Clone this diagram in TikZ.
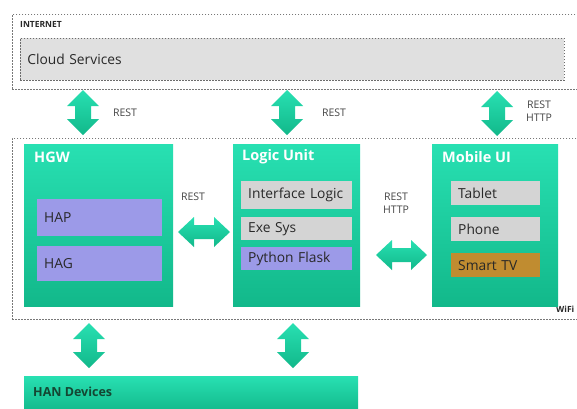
\documentclass[tikz,border=0pt]{standalone}
\usepackage{fontspec}
\setmainfont{Open Sans}
\definecolor{gT}{RGB}{40,224,178}
\definecolor{gB}{RGB}{18,184,138}
\definecolor{purp}{RGB}{156,154,232}
\definecolor{lgray}{RGB}{212,212,212}
\definecolor{cgray}{RGB}{224,224,224}
\definecolor{tvbrown}{RGB}{192,140,48}
\definecolor{dashc}{RGB}{120,120,120}
\definecolor{txt}{RGB}{40,40,40}
\definecolor{lbltxt}{RGB}{70,70,70}
\definecolor{hantxt}{RGB}{20,70,50}
\newcommand\vfat[4]{%
  \draw[fatarrow] ({#2},{#3}) -- ({#2+16},{#3+16}) -- ({#2+8},{#3+16}) -- ({#2+8},{#4-16}) -- ({#2+16},{#4-16}) -- ({#2},{#4}) -- ({#2-16},{#4-16}) -- ({#2-8},{#4-16}) -- ({#2-8},{#3+16}) -- ({#2-16},{#3+16}) -- cycle;
  \coordinate (#1) at ({#2},{(#3+#4)/2});}
\newcommand\hfat[4]{%
  \draw[fatarrow] ({#2},{#4}) -- ({#2+16},{#4-15}) -- ({#2+16},{#4-7}) -- ({#3-16},{#4-7}) -- ({#3-16},{#4-15}) -- ({#3},{#4}) -- ({#3-16},{#4+15}) -- ({#3-16},{#4+7}) -- ({#2+16},{#4+7}) -- ({#2+16},{#4+15}) -- cycle;
  \coordinate (#1) at ({(#2+#3)/2},{#4});}
\begin{document}
\begin{tikzpicture}[x=1pt,y=-1pt,
  zone/.style={draw=dashc, line width=0.7pt, dash pattern=on 1.6pt off 1.4pt, inner sep=0pt, anchor=north west},
  greenbox/.style={draw=none, top color=gT, bottom color=gB, inner sep=0pt, anchor=north west},
  subbox/.style={inner xsep=7pt, inner ysep=0pt, anchor=north west, align=left, text=txt, font=\fontsize{13.8}{16}\selectfont},
  title/.style={anchor=west, text=white, font=\bfseries\fontsize{14.5}{17}\selectfont, inner sep=0pt},
  smalllbl/.style={text=lbltxt, font=\fontsize{10.5}{12.5}\selectfont, align=center, inner sep=0pt},
  zonelbl/.style={anchor=west, inner sep=0pt, text=txt, font=\bfseries\fontsize{8.5}{10}\selectfont},
  fatarrow/.style={draw=none, top color=gT, bottom color=gB}
]
\useasboundingbox[fill=white] (0,0) rectangle (577,408);
% zones
\node[zone, minimum width=568pt, minimum height=75pt] (internet) at (12,14) {};
\node[zonelbl] (internetlbl) at (20,24) {INTERNET};
\node[zone, fill=cgray, draw=dashc!90!black, minimum width=544pt, minimum height=42pt, subbox, text width=530pt] (cloud) at (20,38) {Cloud Services};
\node[zone, minimum width=568pt, minimum height=181pt] (wifi) at (12,138) {};
\node[zonelbl] (wifilbl) at (556,309) {WiFi};
% HGW
\node[greenbox, minimum width=149pt, minimum height=162pt] (hgw) at (24,144) {};
\node[title] (hgwt) at (34,157) {HGW};
\node[subbox, fill=purp, minimum width=125pt, minimum height=37pt, text width=111pt] (hap) at (37,199) {HAP};
\node[subbox, fill=purp, minimum width=125pt, minimum height=35pt, text width=111pt] (hag) at (37,246) {HAG};
% Logic unit
\node[greenbox, minimum width=127pt, minimum height=162pt] (logic) at (233,144) {};
\node[title] (logict) at (242,157) {Logic Unit};
\node[subbox, fill=lgray, minimum width=111pt, minimum height=28pt, text width=97pt] (iface) at (241,181) {Interface Logic};
\node[subbox, fill=lgray, minimum width=111pt, minimum height=23pt, text width=97pt] (exe) at (241,217) {Exe Sys};
\node[subbox, fill=purp, minimum width=111pt, minimum height=23pt, text width=97pt] (flask) at (241,247) {Python Flask};
% Mobile UI
\node[greenbox, minimum width=126pt, minimum height=162pt] (mobile) at (432,144) {};
\node[title] (mobilet) at (442,157) {Mobile UI};
\node[subbox, fill=lgray, minimum width=89pt, minimum height=24pt, text width=75pt] (tablet) at (451,181) {Tablet};
\node[subbox, fill=lgray, minimum width=89pt, minimum height=24pt, text width=75pt] (phone) at (451,217) {Phone};
\node[subbox, fill=tvbrown, minimum width=89pt, minimum height=24pt, text width=75pt] (tv) at (451,253) {Smart TV};
% HAN
\node[greenbox, minimum width=334pt, minimum height=36pt] (han) at (24,376) {};
\node[anchor=west, inner sep=0pt, text=hantxt, font=\bfseries\fontsize{12.5}{14}\selectfont] (hant) at (33,392) {HAN Devices};
% arrows
\vfat{a1}{83}{90}{135}
\vfat{a2}{287}{90}{135}
\vfat{a3}{497}{91}{136}
\hfat{a4}{178}{230}{232}
\hfat{a5}{376}{427}{255}
\vfat{a6}{89}{323}{368}
\vfat{a7}{293}{323}{368}
% labels
\node[smalllbl] (l1) at (125,113) {REST};
\node[smalllbl] (l2) at (334,113) {REST};
\node[smalllbl] (l3) at (539,111) {REST\\HTTP};
\node[smalllbl] (l4) at (193,197) {REST};
\node[smalllbl] (l5) at (396,203) {REST\\HTTP};
\end{tikzpicture}
\end{document}
